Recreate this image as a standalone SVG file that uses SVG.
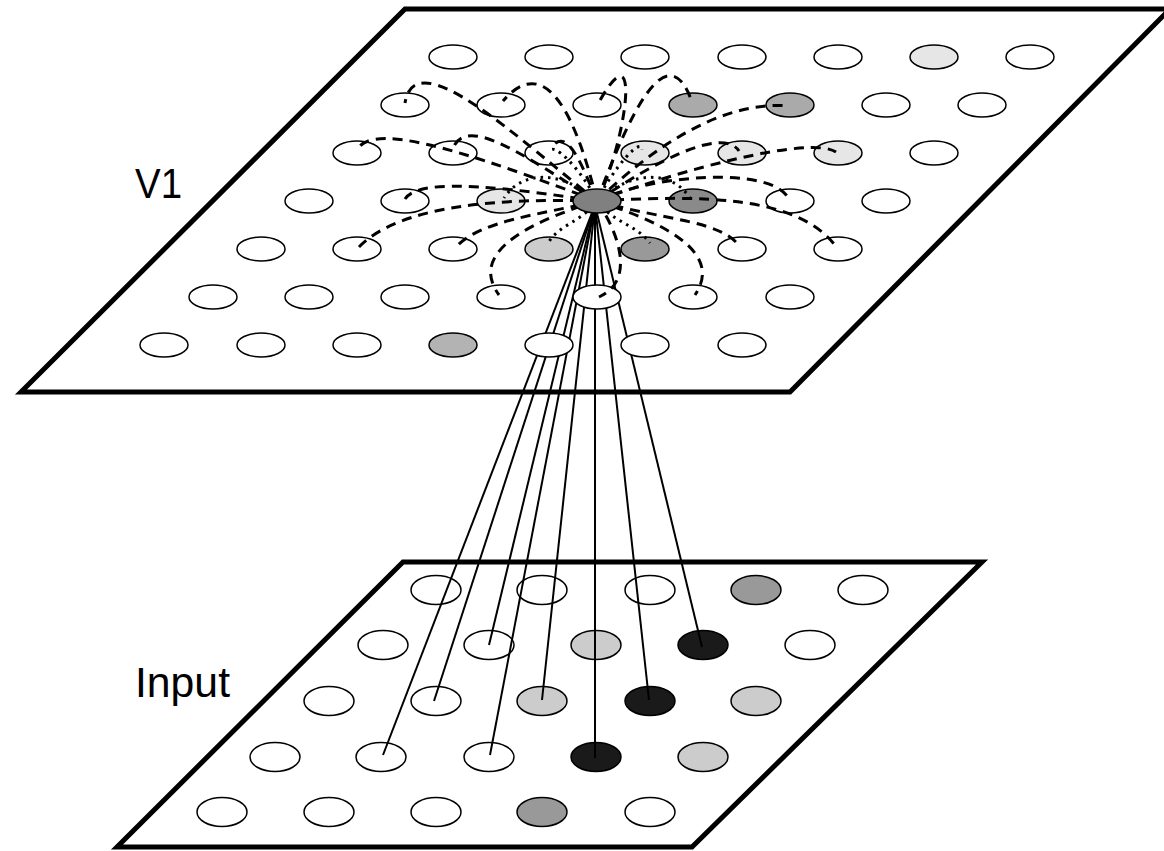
<svg xmlns="http://www.w3.org/2000/svg" width="1164" height="851" viewBox="0 0 1164 851">
<style>
.plane{fill:#fff;stroke:#000;stroke-width:5;stroke-linejoin:miter}
.lbl{font-family:"Liberation Sans",Arial,sans-serif;font-size:42px;fill:#000}
.t{stroke:#000;stroke-width:1.5}
.b{stroke:#000;stroke-width:1.5}
.w{fill:#fff}.g1{fill:#e6e6e6}.g2{fill:#cccccc}.g3{fill:#b3b3b3}.g4{fill:#aaaaaa}.g5{fill:#999999}.g6{fill:#8a8a8a}.g7{fill:#808080}.k{fill:#1a1a1a}
.ff{stroke:#000;stroke-width:2;fill:none}
.da{stroke:#000;stroke-width:3;fill:none;stroke-dasharray:10 7}
.do{stroke:#000;stroke-width:3;fill:none;stroke-dasharray:2.5 5}
</style>
<g id="planes">
<polygon class="plane" points="405,9 1170,9 790,392 21,392"/>
<polygon class="plane" points="403,562 982,562 692,847 117,847"/>
</g>
<g id="labels">
<text class="lbl" x="135" y="198" textLength="47" lengthAdjust="spacingAndGlyphs">V1</text>
<text class="lbl" x="135" y="697" textLength="95" lengthAdjust="spacingAndGlyphs">Input</text>
</g>
<g id="input-nodes">
<g id="in-r0c0"><ellipse class="b w" cx="436" cy="590" rx="25" ry="14.5"/></g>
<g id="in-r0c1"><ellipse class="b w" cx="542" cy="590" rx="25" ry="14.5"/></g>
<g id="in-r0c2"><ellipse class="b w" cx="650" cy="590" rx="25" ry="14.5"/></g>
<g id="in-r0c3"><ellipse class="b g5" cx="756" cy="590" rx="25" ry="14.5"/></g>
<g id="in-r0c4"><ellipse class="b w" cx="863" cy="590" rx="25" ry="14.5"/></g>
<g id="in-r1c0"><ellipse class="b w" cx="383" cy="645" rx="25" ry="14.5"/></g>
<g id="in-r1c1"><ellipse class="b w" cx="489" cy="645" rx="25" ry="14.5"/></g>
<g id="in-r1c2"><ellipse class="b g2" cx="596" cy="645" rx="25" ry="14.5"/></g>
<g id="in-r1c3"><ellipse class="b k" cx="703" cy="645" rx="25" ry="14.5"/></g>
<g id="in-r1c4"><ellipse class="b w" cx="810" cy="645" rx="25" ry="14.5"/></g>
<g id="in-r2c0"><ellipse class="b w" cx="329" cy="701" rx="25" ry="14.5"/></g>
<g id="in-r2c1"><ellipse class="b w" cx="436" cy="701" rx="25" ry="14.5"/></g>
<g id="in-r2c2"><ellipse class="b g2" cx="542" cy="701" rx="25" ry="14.5"/></g>
<g id="in-r2c3"><ellipse class="b k" cx="650" cy="701" rx="25" ry="14.5"/></g>
<g id="in-r2c4"><ellipse class="b g2" cx="756" cy="701" rx="25" ry="14.5"/></g>
<g id="in-r3c0"><ellipse class="b w" cx="275" cy="757" rx="25" ry="14.5"/></g>
<g id="in-r3c1"><ellipse class="b w" cx="381" cy="757" rx="25" ry="14.5"/></g>
<g id="in-r3c2"><ellipse class="b w" cx="489" cy="757" rx="25" ry="14.5"/></g>
<g id="in-r3c3"><ellipse class="b k" cx="596" cy="757" rx="25" ry="14.5"/></g>
<g id="in-r3c4"><ellipse class="b g2" cx="703" cy="757" rx="25" ry="14.5"/></g>
<g id="in-r4c0"><ellipse class="b w" cx="222" cy="812" rx="25" ry="14.5"/></g>
<g id="in-r4c1"><ellipse class="b w" cx="329" cy="812" rx="25" ry="14.5"/></g>
<g id="in-r4c2"><ellipse class="b w" cx="436" cy="812" rx="25" ry="14.5"/></g>
<g id="in-r4c3"><ellipse class="b g5" cx="542" cy="812" rx="25" ry="14.5"/></g>
<g id="in-r4c4"><ellipse class="b w" cx="650" cy="812" rx="25" ry="14.5"/></g>
</g>
<g id="feedforward-connectors">
<line class="ff" x1="595" y1="205" x2="383" y2="755"/>
<line class="ff" x1="595" y1="205" x2="434" y2="701"/>
<line class="ff" x1="595" y1="205" x2="490" y2="755"/>
<line class="ff" x1="595" y1="205" x2="489" y2="645"/>
<line class="ff" x1="595" y1="205" x2="542" y2="700"/>
<line class="ff" x1="595" y1="205" x2="595" y2="758"/>
<line class="ff" x1="595" y1="205" x2="649" y2="700"/>
<line class="ff" x1="595" y1="205" x2="702" y2="647"/>
</g>
<g id="v1-nodes">
<g id="v1-r0c0"><ellipse class="t w" cx="453" cy="57" rx="24" ry="12"/></g>
<g id="v1-r0c1"><ellipse class="t w" cx="549" cy="57" rx="24" ry="12"/></g>
<g id="v1-r0c2"><ellipse class="t w" cx="645" cy="57" rx="24" ry="12"/></g>
<g id="v1-r0c3"><ellipse class="t w" cx="742" cy="57" rx="24" ry="12"/></g>
<g id="v1-r0c4"><ellipse class="t w" cx="838" cy="57" rx="24" ry="12"/></g>
<g id="v1-r0c5"><ellipse class="t g1" cx="934" cy="57" rx="24" ry="12"/></g>
<g id="v1-r0c6"><ellipse class="t w" cx="1030" cy="57" rx="24" ry="12"/></g>
<g id="v1-r1c0"><ellipse class="t w" cx="405" cy="105" rx="24" ry="12"/></g>
<g id="v1-r1c1"><ellipse class="t w" cx="501" cy="105" rx="24" ry="12"/></g>
<g id="v1-r1c2"><ellipse class="t w" cx="597" cy="105" rx="24" ry="12"/></g>
<g id="v1-r1c3"><ellipse class="t g4" cx="693" cy="105" rx="24" ry="12"/></g>
<g id="v1-r1c4"><ellipse class="t g4" cx="790" cy="105" rx="24" ry="12"/></g>
<g id="v1-r1c5"><ellipse class="t w" cx="886" cy="105" rx="24" ry="12"/></g>
<g id="v1-r1c6"><ellipse class="t w" cx="982" cy="105" rx="24" ry="12"/></g>
<g id="v1-r2c0"><ellipse class="t w" cx="357" cy="153" rx="24" ry="12"/></g>
<g id="v1-r2c1"><ellipse class="t w" cx="453" cy="153" rx="24" ry="12"/></g>
<g id="v1-r2c2"><ellipse class="t w" cx="549" cy="153" rx="24" ry="12"/></g>
<g id="v1-r2c3"><ellipse class="t g1" cx="645" cy="153" rx="24" ry="12"/></g>
<g id="v1-r2c4"><ellipse class="t g1" cx="742" cy="153" rx="24" ry="12"/></g>
<g id="v1-r2c5"><ellipse class="t g1" cx="838" cy="153" rx="24" ry="12"/></g>
<g id="v1-r2c6"><ellipse class="t w" cx="934" cy="153" rx="24" ry="12"/></g>
<g id="v1-r3c0"><ellipse class="t w" cx="309" cy="201" rx="24" ry="12"/></g>
<g id="v1-r3c1"><ellipse class="t w" cx="405" cy="201" rx="24" ry="12"/></g>
<g id="v1-r3c2"><ellipse class="t g1" cx="501" cy="201" rx="24" ry="12"/></g>
<g id="v1-r3c4"><ellipse class="t g6" cx="693" cy="201" rx="24" ry="12"/></g>
<g id="v1-r3c5"><ellipse class="t w" cx="790" cy="201" rx="24" ry="12"/></g>
<g id="v1-r3c6"><ellipse class="t w" cx="886" cy="201" rx="24" ry="12"/></g>
<g id="v1-r4c0"><ellipse class="t w" cx="261" cy="249" rx="24" ry="12"/></g>
<g id="v1-r4c1"><ellipse class="t w" cx="357" cy="249" rx="24" ry="12"/></g>
<g id="v1-r4c2"><ellipse class="t w" cx="453" cy="249" rx="24" ry="12"/></g>
<g id="v1-r4c3"><ellipse class="t g2" cx="549" cy="249" rx="24" ry="12"/></g>
<g id="v1-r4c4"><ellipse class="t g5" cx="645" cy="249" rx="24" ry="12"/></g>
<g id="v1-r4c5"><ellipse class="t w" cx="742" cy="249" rx="24" ry="12"/></g>
<g id="v1-r4c6"><ellipse class="t w" cx="838" cy="249" rx="24" ry="12"/></g>
<g id="v1-r5c0"><ellipse class="t w" cx="213" cy="297" rx="24" ry="12"/></g>
<g id="v1-r5c1"><ellipse class="t w" cx="309" cy="297" rx="24" ry="12"/></g>
<g id="v1-r5c2"><ellipse class="t w" cx="405" cy="297" rx="24" ry="12"/></g>
<g id="v1-r5c3"><ellipse class="t w" cx="501" cy="297" rx="24" ry="12"/></g>
<g id="v1-r5c4"><ellipse class="t w" cx="597" cy="297" rx="24" ry="12"/></g>
<g id="v1-r5c5"><ellipse class="t w" cx="693" cy="297" rx="24" ry="12"/></g>
<g id="v1-r5c6"><ellipse class="t w" cx="790" cy="297" rx="24" ry="12"/></g>
<g id="v1-r6c0"><ellipse class="t w" cx="164" cy="345" rx="24" ry="12"/></g>
<g id="v1-r6c1"><ellipse class="t w" cx="261" cy="345" rx="24" ry="12"/></g>
<g id="v1-r6c2"><ellipse class="t w" cx="357" cy="345" rx="24" ry="12"/></g>
<g id="v1-r6c3"><ellipse class="t g3" cx="453" cy="345" rx="24" ry="12"/></g>
<g id="v1-r6c4"><ellipse class="t w" cx="549" cy="345" rx="24" ry="12"/></g>
<g id="v1-r6c5"><ellipse class="t w" cx="645" cy="345" rx="24" ry="12"/></g>
<g id="v1-r6c6"><ellipse class="t w" cx="742" cy="345" rx="24" ry="12"/></g>
</g>
<g id="lateral-connectors">
<path class="da" d="M597,201 C520,140 415,40 405,103"/>
<path class="da" d="M597,201 C500,165 370,115 357,151"/>
<path class="da" d="M597,201 C520,190 420,175 405,199"/>
<path class="da" d="M597,201 C500,198 400,205 359,247"/>
<path class="da" d="M597,201 C540,215 480,220 455,248"/>
<path class="da" d="M597,201 C520,225 470,255 499,295"/>
<path class="da" d="M597,201 C672,225 722,255 695,295"/>
<path class="da" d="M597,201 C617,230 637,280 599,297"/>
<path class="da" d="M597,201 C662,220 722,220 740,247"/>
<path class="da" d="M597,201 C700,195 800,195 837,248"/>
<path class="da" d="M597,201 C650,175 772,165 789,199"/>
<path class="da" d="M597,201 C680,170 810,135 836,152"/>
<path class="da" d="M597,201 C650,165 722,125 739,151"/>
<path class="da" d="M597,201 C650,150 720,100 789,106"/>
<path class="da" d="M597,201 C627,120 667,30 692,102"/>
<path class="da" d="M597,201 C627,140 642,25 599,102"/>
<path class="da" d="M597,201 C577,120 547,50 503,101"/>
<path class="da" d="M597,201 C582,165 567,125 551,148"/>
<path class="da" d="M597,201 C530,160 470,115 454,146"/>
<path class="do" d="M597,201 C612,170 642,135 642,150"/>
<path class="do" d="M597,201 C582,170 552,140 550,152"/>
<path class="do" d="M597,201 C562,170 522,170 504,198"/>
<path class="do" d="M597,201 C632,170 672,170 690,198"/>
<path class="do" d="M597,201 C582,222 557,225 547,245"/>
<path class="do" d="M597,201 C612,222 637,225 650,243"/>
</g>
<g id="v1-r3c3"><ellipse class="t g7" cx="597" cy="201" rx="24" ry="12"/></g>
</svg>
